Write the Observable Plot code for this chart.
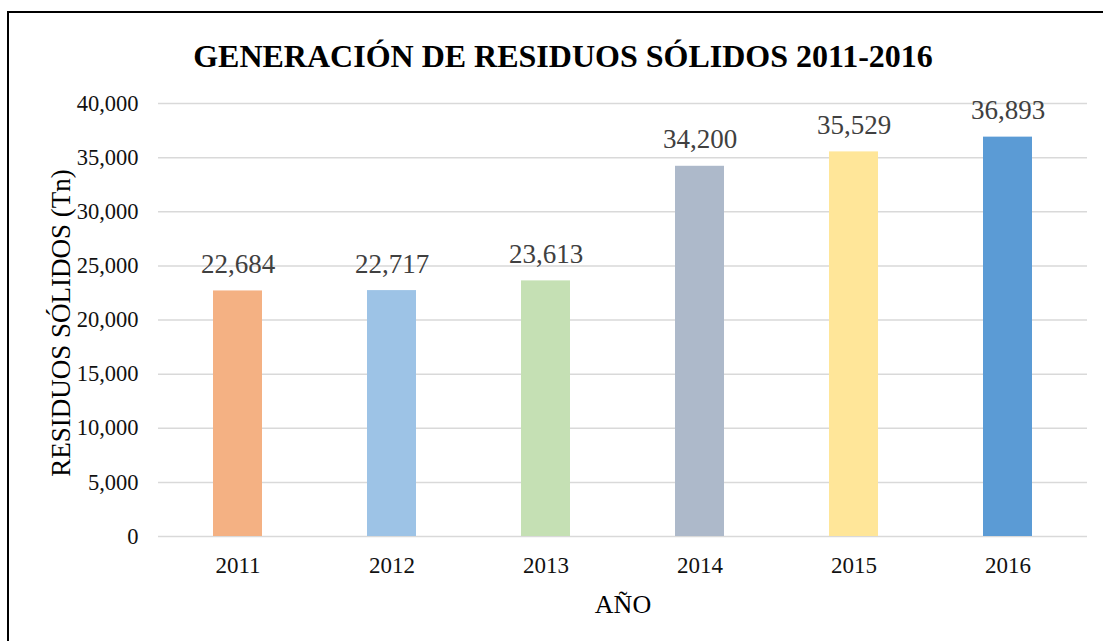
<!DOCTYPE html>
<html>
<head>
<meta charset="utf-8">
<script src="https://cdn.jsdelivr.net/npm/d3@7"></script>
<script src="https://cdn.jsdelivr.net/npm/@observablehq/plot@0.6"></script>
<style>
  html, body { margin: 0; padding: 0; background: #fff; overflow: hidden; }
  #wrap { position: relative; width: 1103px; height: 641px; }
  #frame { position: absolute; left: 7px; top: 11px; width: 1200px; height: 700px; border: 2px solid #000; pointer-events: none; }
</style>
</head>
<body>
<div id="wrap"><div id="frame"></div></div>
<script>
const years = ["2011", "2012", "2013", "2014", "2015", "2016"];
const values = [22684, 22717, 23613, 34200, 35529, 36893];
const barColors = ["#F4B183", "#9DC3E6", "#C5E0B4", "#ADB9CA", "#FFE699", "#5B9BD5"];
const yTicks = [0, 5000, 10000, 15000, 20000, 25000, 30000, 35000, 40000];
const titleText = "GENERACIÓN DE RESIDUOS SÓLIDOS 2011-2016";
const yLabel = "RESIDUOS SÓLIDOS (Tn)";
const xLabel = "AÑO";

const data = years.map((y, i) => ({year: y, value: values[i], color: barColors[i]}));
const fmt = d3.format(",");

const chart = Plot.plot({
  width: 1103,
  height: 641,
  marginTop: 103,
  marginBottom: 105,
  marginLeft: 158,
  marginRight: 16,
  style: {fontFamily: "'Liberation Serif', 'Times New Roman', serif", background: "transparent"},
  x: {domain: years, paddingInner: 0.683, paddingOuter: 0.3415, label: null},
  y: {domain: [0, 40000], label: null},
  marks: [
    Plot.gridY(yTicks, {stroke: "#d9d9d9", strokeOpacity: 1, strokeWidth: 1.5}),
    Plot.barY(data, {x: "year", y: "value", fill: "color"}),
    Plot.text(data, {x: "year", y: "value", text: d => fmt(d.value), lineAnchor: "bottom", dy: -18, fontSize: 27, fill: "#404040"}),
    Plot.axisY({ticks: yTicks, tickFormat: fmt, tickSize: 0, tickPadding: 20, fontSize: 22.5, color: "#111", label: null}),
    Plot.axisX({tickSize: 0, tickPadding: 20, fontSize: 23, color: "#111", label: null}),
    Plot.text([titleText], {frameAnchor: "top", dx: -60, dy: -37, lineAnchor: "bottom", fontSize: 32, fontWeight: "bold", fill: "#000"}),
    Plot.text([yLabel], {frameAnchor: "left", rotate: -90, dx: -97, dy: 3, textAnchor: "middle", lineAnchor: "middle", fontSize: 27, fill: "#000"}),
    Plot.text([xLabel], {frameAnchor: "bottom", dy: 68, textAnchor: "middle", lineAnchor: "middle", fontSize: 26, fill: "#000"})
  ]
});
chart.style.position = "absolute";
chart.style.left = "0px";
chart.style.top = "0px";
document.getElementById("wrap").insertBefore(chart, document.getElementById("frame"));
</script>
</body>
</html>
